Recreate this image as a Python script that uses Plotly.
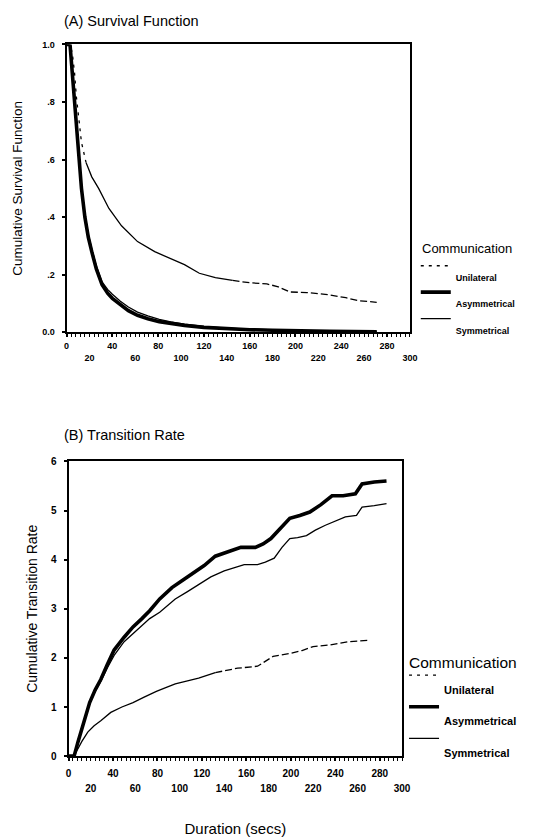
import plotly.graph_objects as go

# ---------------- data ----------------
# Panel A: cumulative survival function
surv_uni_x = [0, 3, 5, 7, 8.5, 11, 13, 17, 22, 28, 37, 48, 62, 77, 91, 103, 116, 130, 145, 160, 175, 185, 195, 210, 226, 244, 255, 271]
surv_uni_y = [1.0, 1.0, 0.97, 0.9, 0.82, 0.74, 0.66, 0.59, 0.54, 0.5, 0.43, 0.37, 0.315, 0.28, 0.255, 0.235, 0.205, 0.19, 0.18, 0.172, 0.168, 0.158, 0.14, 0.138, 0.132, 0.12, 0.11, 0.104]

surv_asym_x = [0, 3, 5, 7, 9, 11, 13, 16, 19, 22, 26, 31, 36, 40, 47, 54, 62, 71, 81, 91, 103, 120, 140, 160, 180, 200, 230, 271]
surv_asym_y = [1.0, 1.0, 0.9, 0.8, 0.68, 0.58, 0.5, 0.4, 0.33, 0.28, 0.22, 0.165, 0.135, 0.118, 0.095, 0.075, 0.059, 0.047, 0.037, 0.030, 0.024, 0.017, 0.012, 0.009, 0.007, 0.005, 0.003, 0.002]

surv_sym_x = [0, 3, 5, 7, 9, 11, 13, 16, 19, 22, 26, 31, 36, 40, 47, 54, 62, 71, 81, 91, 103, 120, 140, 160, 180, 200, 230, 271]
surv_sym_y = [1.0, 1.0, 0.9, 0.8, 0.68, 0.58, 0.5, 0.41, 0.34, 0.29, 0.23, 0.175, 0.148, 0.132, 0.108, 0.088, 0.070, 0.057, 0.045, 0.036, 0.028, 0.020, 0.014, 0.011, 0.008, 0.006, 0.004, 0.003]

# Panel B: cumulative transition rate
rate_uni_x = [0, 5, 7, 12, 17.3, 23, 29, 38, 48, 58, 68, 79, 88, 96, 107, 117, 132, 152, 170, 184, 199, 210, 220, 234, 252, 271]
rate_uni_y = [0, 0, 0.09, 0.3, 0.49, 0.62, 0.72, 0.89, 1.0, 1.09, 1.2, 1.32, 1.4, 1.47, 1.53, 1.59, 1.7, 1.79, 1.83, 2.03, 2.09, 2.15, 2.23, 2.26, 2.33, 2.36]

rate_asym_x = [0, 5, 8.5, 14, 19, 24, 29, 35, 41, 50, 58, 66, 73, 82, 93, 102, 111, 122, 132, 143, 155, 168, 175, 182, 190, 199, 208, 217, 227, 237, 247, 258, 264, 275, 286]
rate_asym_y = [0, 0, 0.29, 0.69, 1.09, 1.35, 1.56, 1.87, 2.16, 2.42, 2.63, 2.8, 2.96, 3.2, 3.43, 3.57, 3.7, 3.88, 4.07, 4.15, 4.25, 4.25, 4.32, 4.43, 4.62, 4.84, 4.9, 4.97, 5.12, 5.3, 5.3, 5.34, 5.54, 5.58, 5.6]

rate_sym_x = [0, 5, 8.5, 14, 19, 24, 29, 35, 41, 50, 58, 66, 73, 82, 96, 107, 117, 128, 140, 150, 158, 170, 177, 185, 192, 199, 206, 214, 222, 231, 240, 249, 259, 264, 275, 286]
rate_sym_y = [0, 0, 0.29, 0.68, 1.07, 1.32, 1.52, 1.8, 2.05, 2.33, 2.5, 2.66, 2.8, 2.93, 3.2, 3.35, 3.5, 3.65, 3.77, 3.85, 3.9, 3.9, 3.95, 4.03, 4.25, 4.43, 4.45, 4.49, 4.6, 4.7, 4.78, 4.87, 4.9, 5.07, 5.1, 5.14]

series_names = ["Unilateral", "Asymmetrical", "Symmetrical"]
legend_title = "Communication"
x_major_upper = [0, 40, 80, 120, 160, 200, 240, 280]
x_major_lower = [20, 60, 100, 140, 180, 220, 260, 300]
surv_ticks = [0, 0.2, 0.4, 0.6, 0.8, 1.0]
surv_ticktext = ["0.0", ".2", ".4", ".6", ".8", "1.0"]
rate_ticks = [0, 1, 2, 3, 4, 5, 6]

# ---------------- figure ----------------
W, H = 549, 840
FONT = "Arial, 'Liberation Sans', sans-serif"


def px_x(p):
    return p / W


def px_y(p):
    return 1 - p / H


fig = go.Figure()


def add_unilateral(xs, ys, xa, ya, leg, cut1, cut2):
    """Unilateral curve: dashed at the start, solid in the middle, dashed tail."""
    i1 = next(i for i, v in enumerate(xs) if v >= cut1)
    i2 = next(i for i, v in enumerate(xs) if v >= cut2)
    segs = [(0, i1, "3px,5px", True), (i1, i2, "solid", False),
            (i2, len(xs) - 1, "7px,3px", False)]
    for a, b, dash, show in segs:
        fig.add_trace(go.Scatter(
            x=xs[a:b + 1], y=ys[a:b + 1],
            mode="lines", xaxis=xa, yaxis=ya, legend=leg,
            name="<br>" + series_names[0], legendgroup=leg + "uni",
            showlegend=show, line=dict(color="black", width=1.3, dash=dash),
            hoverinfo="skip"))


def add_pair(ax, ay, sx, sy, xa, ya, leg):
    fig.add_trace(go.Scatter(x=ax, y=ay, mode="lines", xaxis=xa, yaxis=ya,
                             legend=leg, name="<br>" + series_names[1],
                             line=dict(color="black", width=3.6)))
    fig.add_trace(go.Scatter(x=sx, y=sy, mode="lines", xaxis=xa, yaxis=ya,
                             legend=leg, name="<br>" + series_names[2],
                             line=dict(color="black", width=1.3)))


# Panel A
add_unilateral(surv_uni_x, surv_uni_y, "x", "y", "legend", 17, 145)
add_pair(surv_asym_x, surv_asym_y, surv_sym_x, surv_sym_y, "x", "y", "legend")
# Panel B
add_unilateral(rate_uni_x, rate_uni_y, "x2", "y2", "legend2", 7, 132)
add_pair(rate_asym_x, rate_asym_y, rate_sym_x, rate_sym_y, "x2", "y2", "legend2")

# invisible anchor traces so the overlay axes (lower tick-label rows) are drawn
fig.add_trace(go.Scatter(x=[None], y=[None], xaxis="x3", yaxis="y", showlegend=False, hoverinfo="skip"))
fig.add_trace(go.Scatter(x=[None], y=[None], xaxis="x4", yaxis="y2", showlegend=False, hoverinfo="skip"))

tickfont_a = dict(family=FONT, size=9, color="black", weight="bold")
tickfont_b = dict(family=FONT, size=10, color="black", weight="bold")

common_x = dict(range=[0, 300], showgrid=False, zeroline=False, showline=True,
                linecolor="black", linewidth=2, mirror=True, ticks="outside",
                ticklen=3, tickwidth=1.5, tickcolor="black",
                minor=dict(dtick=4, ticks="outside", ticklen=3, tickcolor="black", tickwidth=1))
common_over = dict(range=[0, 300], showgrid=False, zeroline=False, showline=False,
                   ticks="", tickmode="array", tickvals=x_major_lower)
common_y = dict(showgrid=False, zeroline=False, showline=True, linecolor="black",
                linewidth=2, mirror=True, ticks="outside", ticklen=3, tickwidth=1.5,
                tickcolor="black", ticklabelstandoff=5)

dom_a_x = [px_x(65), px_x(416)]
dom_a_y = [px_y(331), px_y(39)]
dom_b_x = [px_x(67), px_x(408)]
dom_b_y = [px_y(761), px_y(462)]

legend_common = dict(xanchor="left", yanchor="top", valign="top", itemwidth=30,
                     tracegroupgap=0, bgcolor="rgba(0,0,0,0)", borderwidth=0)

fig.update_layout(
    width=W, height=H,
    margin=dict(l=0, r=0, t=0, b=0),
    paper_bgcolor="white", plot_bgcolor="white",
    font=dict(family=FONT, color="black"),
    xaxis=dict(domain=dom_a_x, anchor="y", tickmode="array", tickvals=x_major_upper,
               tickfont=tickfont_a, ticklabelstandoff=1, **common_x),
    xaxis3=dict(domain=dom_a_x, anchor="y", overlaying="x", tickfont=tickfont_a,
                ticklabelstandoff=19, **common_over),
    yaxis=dict(domain=dom_a_y, anchor="x", range=[0, 1], tickmode="array",
               tickvals=surv_ticks, ticktext=surv_ticktext, tickfont=tickfont_a,
               title=dict(text="Cumulative Survival Function", standoff=17,
                          font=dict(family=FONT, size=13.5, color="black")),
               **common_y),
    xaxis2=dict(domain=dom_b_x, anchor="y2", tickmode="array", tickvals=x_major_upper,
                tickfont=tickfont_b, ticklabelstandoff=4, **common_x),
    xaxis4=dict(domain=dom_b_x, anchor="y2", overlaying="x2", tickfont=tickfont_b,
                ticklabelstandoff=25,
                title=dict(text="Duration (secs)", standoff=30,
                           font=dict(family=FONT, size=15, color="black")),
                **common_over),
    yaxis2=dict(domain=dom_b_y, anchor="x2", range=[0, 6], tickmode="array",
                tickvals=rate_ticks, tickfont=tickfont_b,
                title=dict(text="Cumulative Transition Rate", standoff=10,
                           font=dict(family=FONT, size=14, color="black")),
                **common_y),
    legend=dict(x=px_x(422), y=px_y(251),
                font=dict(family=FONT, size=9, color="black", weight="bold"),
                **legend_common),
    legend2=dict(x=px_x(410), y=px_y(665),
                 font=dict(family=FONT, size=11, color="black", weight="bold"),
                 **legend_common),
    annotations=[
        dict(text="(A) Survival Function", x=px_x(60), y=px_y(15), xref="paper",
             yref="paper", xanchor="left", yanchor="middle", showarrow=False,
             font=dict(family=FONT, size=14.5, color="black")),
        dict(text="(B) Transition Rate", x=px_x(60), y=px_y(435), xref="paper",
             yref="paper", xanchor="left", yanchor="middle", showarrow=False,
             font=dict(family=FONT, size=14.5, color="black")),
        dict(text=legend_title, x=px_x(426), y=px_y(246), xref="paper",
             yref="paper", xanchor="left", yanchor="middle", showarrow=False,
             font=dict(family=FONT, size=13, color="black")),
        dict(text=legend_title, x=px_x(413), y=px_y(666), xref="paper",
             yref="paper", xanchor="left", yanchor="middle", showarrow=False,
             font=dict(family=FONT, size=15.5, color="black")),
    ],
)

fig.write_html(
    "out.html",
    config={"displayModeBar": False},
    post_script="document.body.style.margin='0';document.body.style.overflow='hidden';",
)
